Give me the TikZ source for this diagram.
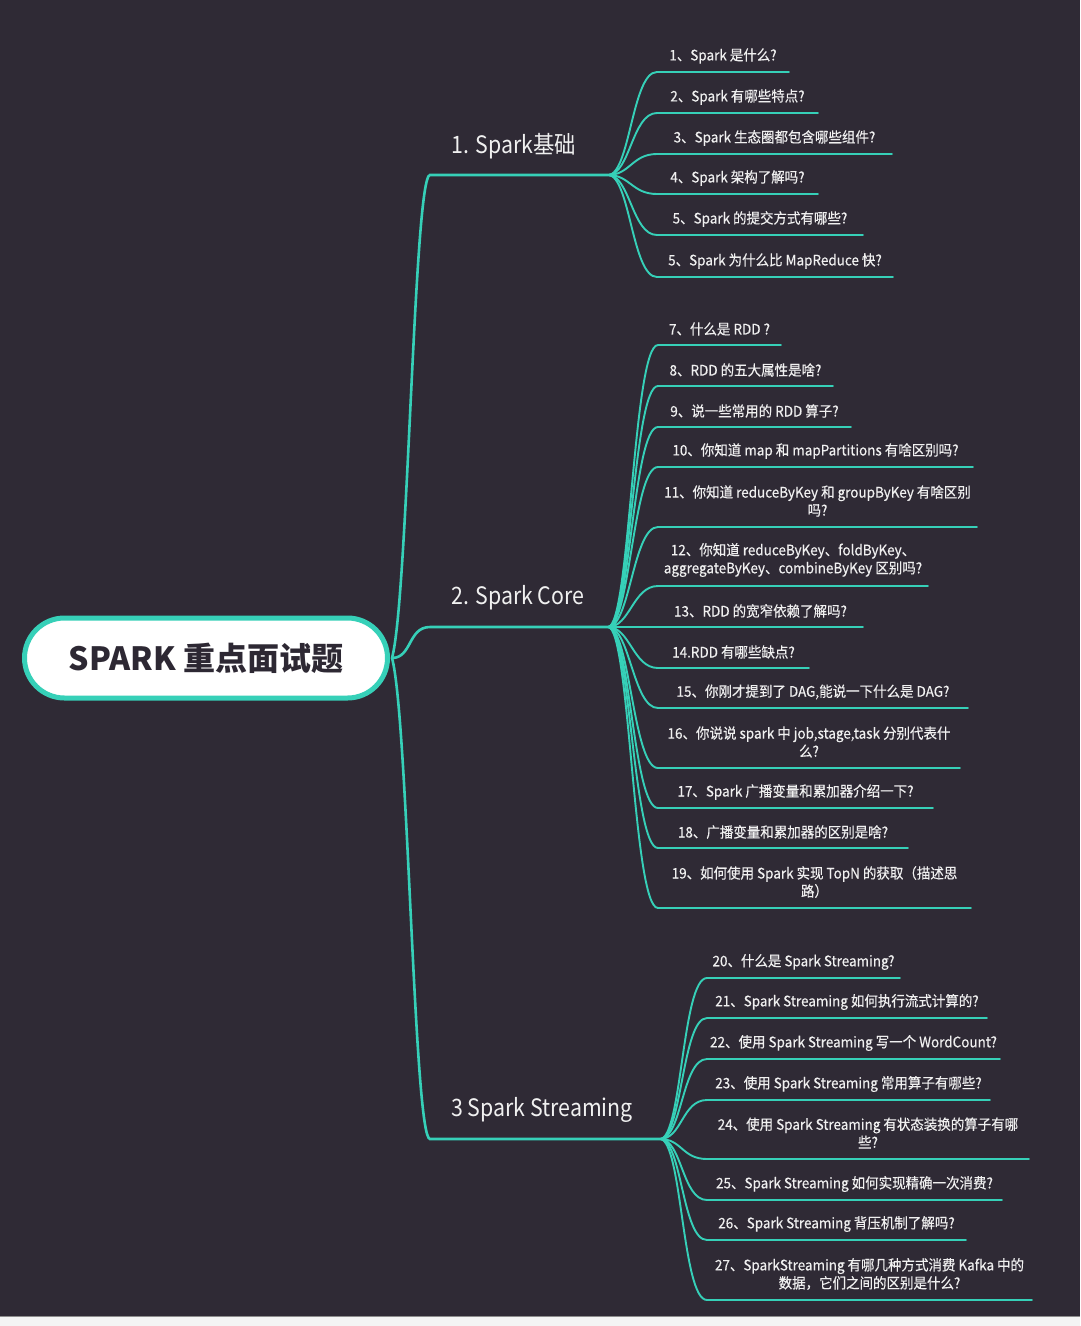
\documentclass[tikz,border=0pt]{standalone}
\usepackage{fontspec}
\setmainfont{Noto Sans CJK SC}
\newfontfamily\qfont[FakeStretch=0.93,FakeBold=0.35]{Noto Sans CJK SC}
\newfontfamily\brfont[FakeStretch=0.89]{Noto Sans CJK SC}
\usetikzlibrary{calc}
\definecolor{bgdark}{HTML}{2F2A35}
\definecolor{teal}{HTML}{36D0B8}
\definecolor{txtw}{HTML}{F0F0F0}
\definecolor{rootink}{HTML}{2D2833}
\definecolor{strip}{HTML}{F4F4F4}
\definecolor{stripline}{HTML}{8C8C8C}
\tikzset{
  rootbox/.style={draw=teal, line width=5pt, fill=white, rounded corners=40pt,
    minimum width=363pt, minimum height=80pt, inner sep=0pt, outer sep=0pt,
    text=rootink, font=\bfseries\fontsize{32}{36}\selectfont},
  branchlabel/.style={anchor=west, inner sep=0pt, text=txtw, font=\brfont\fontsize{24}{28}\selectfont},
  mainline/.style={draw=teal, line width=2.6pt, line cap=round},
  subline/.style={draw=teal, line width=1.9pt, line cap=round},
  qtext/.style={inner sep=0pt, align=center, text=txtw, font=\qfont\fontsize{14.5}{18}\selectfont}
}
\newcommand\qa[7]{%
  \coordinate (#1s) at (#3,#5);
  \coordinate (#1e) at (#4,#5);
  \node[qtext] (#1) at ($(#1s)!0.5!(#1e)+(0,#6)$) {#7};
  \draw[subline] (#2) .. controls +(22,0) and +(-25,0) .. (#1s) -- (#1e);
}
\begin{document}
\begin{tikzpicture}[x=1pt,y=-1pt]
\useasboundingbox (0,0) rectangle (1080,1326);
\fill[bgdark] (0,0) rectangle (1080,1316);
\fill[strip] (0,1316) rectangle (1080,1326);
\draw[stripline, line width=1.2pt] (0,1316.5) -- (1080,1316.5);

% root
\node[rootbox] (root) at (206,658) {SPARK 重点面试题};
\coordinate (rj) at (392,658);

% main branches
\coordinate (b1s) at (430,175);
\coordinate (h1) at (608,175);
\coordinate (b2s) at (430,627);
\coordinate (h2) at (608,627);
\coordinate (b3s) at (430,1139);
\coordinate (h3) at (660,1139);
\draw[mainline] (rj) .. controls (408,600) and (414,175) .. (b1s) -- (h1);
\draw[mainline] (rj) .. controls (412,658) and (408,627) .. (b2s) -- (h2);
\draw[mainline] (rj) .. controls (408,716) and (414,1139) .. (b3s) -- (h3);
\node[branchlabel] (b1) at (451,146) {1. Spark基础};
\node[branchlabel] (b2) at (451,598) {2. Spark Core};
\node[branchlabel] (b3) at (451,1110) {3 Spark Streaming};

% section 1
\qa{i1}{h1}{657}{789}{72}{-16}{1、Spark 是什么?}
\qa{i2}{h1}{657}{818}{113}{-16}{2、Spark 有哪些特点?}
\qa{i3}{h1}{657}{892}{154}{-16}{3、Spark 生态圈都包含哪些组件?}
\qa{i4}{h1}{657}{818}{194}{-16}{4、Spark 架构了解吗?}
\qa{i5}{h1}{657}{863}{235}{-16}{5、Spark 的提交方式有哪些?}
\qa{i6}{h1}{657}{893}{277}{-16}{5、Spark 为什么比 MapReduce 快?}

% section 2
\qa{i7}{h2}{658}{781}{345}{-16}{7、什么是 RDD ?}
\qa{i8}{h2}{658}{833}{386}{-16}{8、RDD 的五大属性是啥?}
\qa{i9}{h2}{658}{851}{427}{-16}{9、说一些常用的 RDD 算子?}
\qa{i10}{h2}{658}{973}{467}{-16}{10、你知道 map 和 mapPartitions 有啥区别吗?}
\qa{i11}{h2}{658}{977}{527}{-26}{11、你知道 reduceByKey 和 groupByKey 有啥区别\\吗?}
\qa{i12}{h2}{658}{928}{586}{-26}{12、你知道 reduceByKey、foldByKey、\\aggregateByKey、combineByKey 区别吗?}
\qa{i13}{h2}{658}{863}{627}{-16}{13、RDD 的宽窄依赖了解吗?}
\qa{i14}{h2}{658}{809}{668}{-16}{14.RDD 有哪些缺点?}
\qa{i15}{h2}{658}{968}{708}{-16}{15、你刚才提到了 DAG,能说一下什么是 DAG?}
\qa{i16}{h2}{658}{960}{768}{-26}{16、你说说 spark 中 job,stage,task 分别代表什\\么?}
\qa{i17}{h2}{658}{933}{808}{-16}{17、Spark 广播变量和累加器介绍一下?}
\qa{i18}{h2}{658}{908}{848}{-16}{18、广播变量和累加器的区别是啥?}
\qa{i19}{h2}{658}{971}{908}{-26}{19、如何使用 Spark 实现 TopN 的获取（描述思\\路）}

% section 3
\qa{i20}{h3}{707}{900}{978}{-16}{20、什么是 Spark Streaming?}
\qa{i21}{h3}{707}{987}{1018}{-16}{21、Spark Streaming 如何执行流式计算的?}
\qa{i22}{h3}{707}{1000}{1059}{-16}{22、使用 Spark Streaming 写一个 WordCount?}
\qa{i23}{h3}{707}{990}{1100}{-16}{23、使用 Spark Streaming 常用算子有哪些?}
\qa{i24}{h3}{707}{1029}{1159}{-26}{24、使用 Spark Streaming 有状态装换的算子有哪\\些?}
\qa{i25}{h3}{707}{1002}{1200}{-16}{25、Spark Streaming 如何实现精确一次消费?}
\qa{i26}{h3}{707}{966}{1240}{-16}{26、Spark Streaming 背压机制了解吗?}
\qa{i27}{h3}{707}{1032}{1300}{-26}{27、SparkStreaming 有哪几种方式消费 Kafka 中的\\数据，它们之间的区别是什么?}
\end{tikzpicture}
\end{document}
